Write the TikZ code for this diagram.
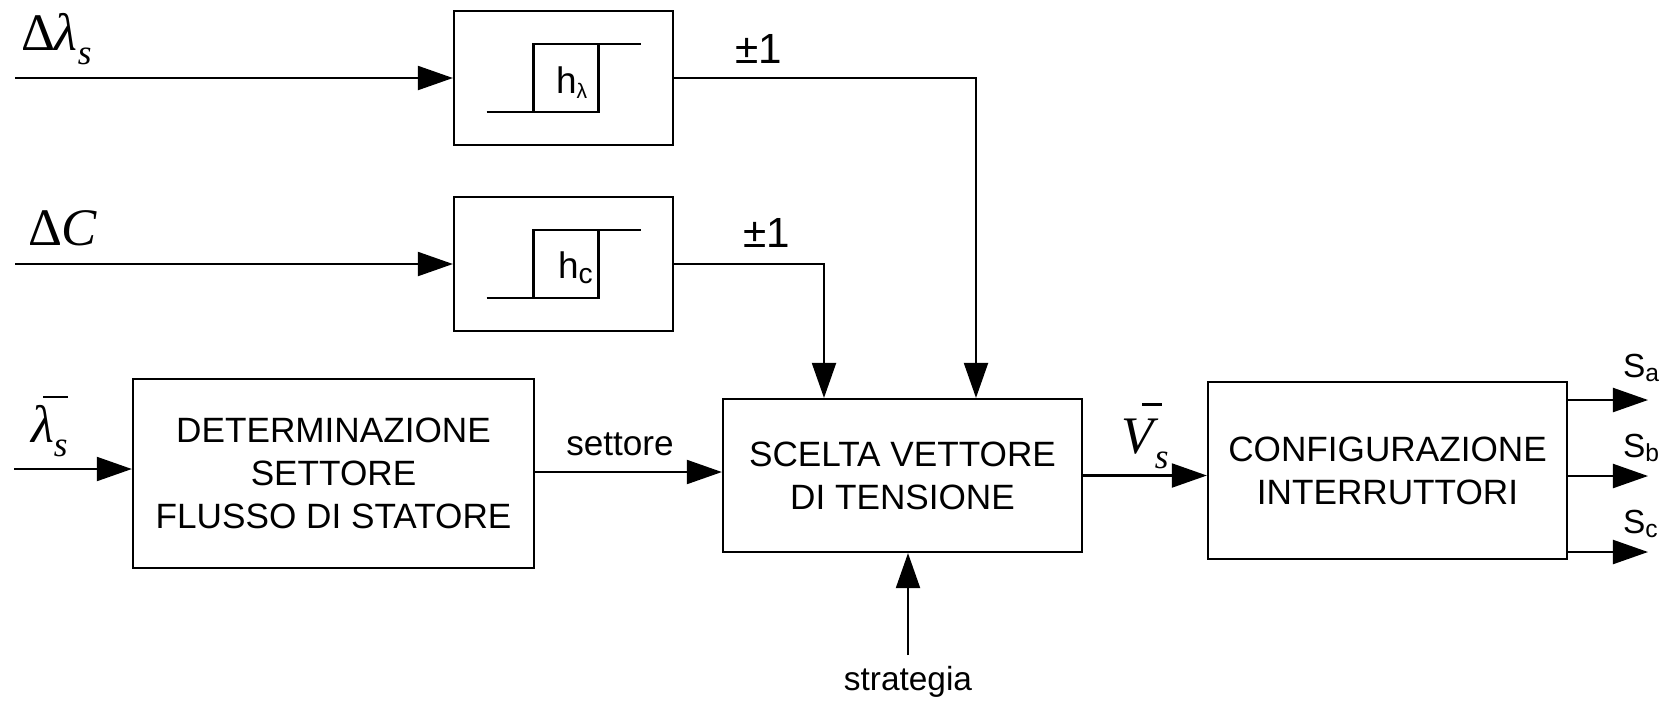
\documentclass[tikz,border=0pt]{standalone}
\usepackage{fontspec}
\setmainfont{Liberation Sans}
\newfontfamily\tms{Liberation Serif}
\usetikzlibrary{arrows.meta}

\begin{document}
\begin{tikzpicture}[x=0.01cm, y=-0.01cm, line width=0.6pt,
  box/.style={draw, rectangle, inner sep=0pt, align=center,
              font=\fontsize{10}{12.2}\selectfont},
  arr/.style={-{Triangle[length=0.35cm, width=0.24cm]}},
  lbl/.style={inner sep=0pt, anchor=base west},
  txt/.style={inner sep=0pt, anchor=base, font=\fontsize{10}{12}\selectfont},
  sym/.style={lbl, font=\tms\fontsize{15}{15}\selectfont}]
\useasboundingbox (0,0) rectangle (1666,702);

% blocks
\node[box, minimum width=2.19cm, minimum height=1.34cm] (hl) at (563.5,78) {};
\node[box, minimum width=2.19cm, minimum height=1.34cm] (hc) at (563.5,264) {};
\node[box, minimum width=4.01cm, minimum height=1.89cm] (det) at (333.5,473.5)
  {DETERMINAZIONE\\SETTORE\\FLUSSO DI STATORE};
\node[box, minimum width=3.59cm, minimum height=1.53cm] (sv) at (902.5,475.5)
  {SCELTA VETTORE\\DI TENSIONE};
\node[box, minimum width=3.59cm, minimum height=1.77cm] (cfg) at (1387.5,470.5)
  {CONFIGURAZIONE\\INTERRUTTORI};

% hysteresis characteristics
\foreach \b in {hl,hc}{
  \begin{scope}[shift={(\b.center)}]
    \draw (-77,34) -- (35,34) -- (35,-34);
    \draw (-30,34) -- (-30,-34) -- (77,-34);
  \end{scope}
}
\node[lbl, font=\fontsize{10.5}{12}\selectfont] (thl) at (555,93)
  {h\raisebox{-1.5pt}{\fontsize{6}{6}\selectfont λ}};
\node[lbl, font=\fontsize{10.5}{12}\selectfont] (thc) at (557,278)
  {h\raisebox{-1.5pt}{\fontsize{8}{8}\selectfont c}};

% inputs
\coordinate (aL) at (15,78);
\coordinate (aC) at (15,264);
\coordinate (aS) at (14,469);
\draw[arr] (aL) -- (hl.west);
\draw[arr] (aC) -- (hc.west);
\draw[arr] (aS) -- (aS -| det.west);

\node[sym] (lDl) at (20,50)
  {Δ\textit{λ}\raisebox{-4pt}{\fontsize{10}{10}\selectfont\textit{s}}};
\node[sym] (lDC) at (27,245) {Δ\textit{C}};
\node[sym] (lls) at (30,442)
  {\rlap{\hspace{3.5pt}\raisebox{12.5pt}{\rule{7pt}{0.6pt}}}\textit{λ}\raisebox{-4pt}{\fontsize{10}{10}\selectfont\textit{s}}};

% comparator outputs into the selection block
\coordinate (kL) at (976,0);
\coordinate (kC) at (824,0);
\draw[arr] (hl.east) -| (kL |- sv.north);
\draw[arr] (hc.east) -| (kC |- sv.north);
\node[lbl, font=\fontsize{12}{12}\selectfont] (pL) at (734,63) {±1};
\node[lbl, font=\fontsize{12}{12}\selectfont] (pC) at (742,247) {±1};

% sector
\coordinate (ySet) at (0,472);
\draw[arr] (det.east |- ySet) -- (sv.west |- ySet);
\node[txt] (tset) at (620,455) {settore};

% strategy
\coordinate (st) at (908,655);
\draw[arr] (st) -- (st |- sv.south);
\node[txt, font=\fontsize{9.5}{12}\selectfont] (tstr) at (908,690) {strategia};

% voltage vector
\draw[arr] (sv.east) -- (cfg.west |- sv.east);
\node[sym] (lVs) at (1120,453)
  {\rlap{\hspace{6pt}\raisebox{13.5pt}{\rule{5.5pt}{0.6pt}}}\textit{V}\hspace{-1pt}\raisebox{-4.5pt}{\fontsize{10}{10}\selectfont\textit{s}}};

% switch commands
\foreach \n/\y in {a/400,b/476,c/552}{
  \coordinate (o\n) at (1648,\y);
  \draw[arr] (cfg.east |- o\n) -- (o\n);
}
\node[lbl, font=\fontsize{9.5}{9.5}\selectfont] (lSa) at (1622,377)
  {S\raisebox{-1.3pt}{\fontsize{7}{7}\selectfont a}};
\node[lbl, font=\fontsize{9.5}{9.5}\selectfont] (lSb) at (1622,457)
  {S\raisebox{-1.3pt}{\fontsize{7}{7}\selectfont b}};
\node[lbl, font=\fontsize{9.5}{9.5}\selectfont] (lSc) at (1622,533)
  {S\raisebox{-1.3pt}{\fontsize{7}{7}\selectfont c}};
\end{tikzpicture}
\end{document}
